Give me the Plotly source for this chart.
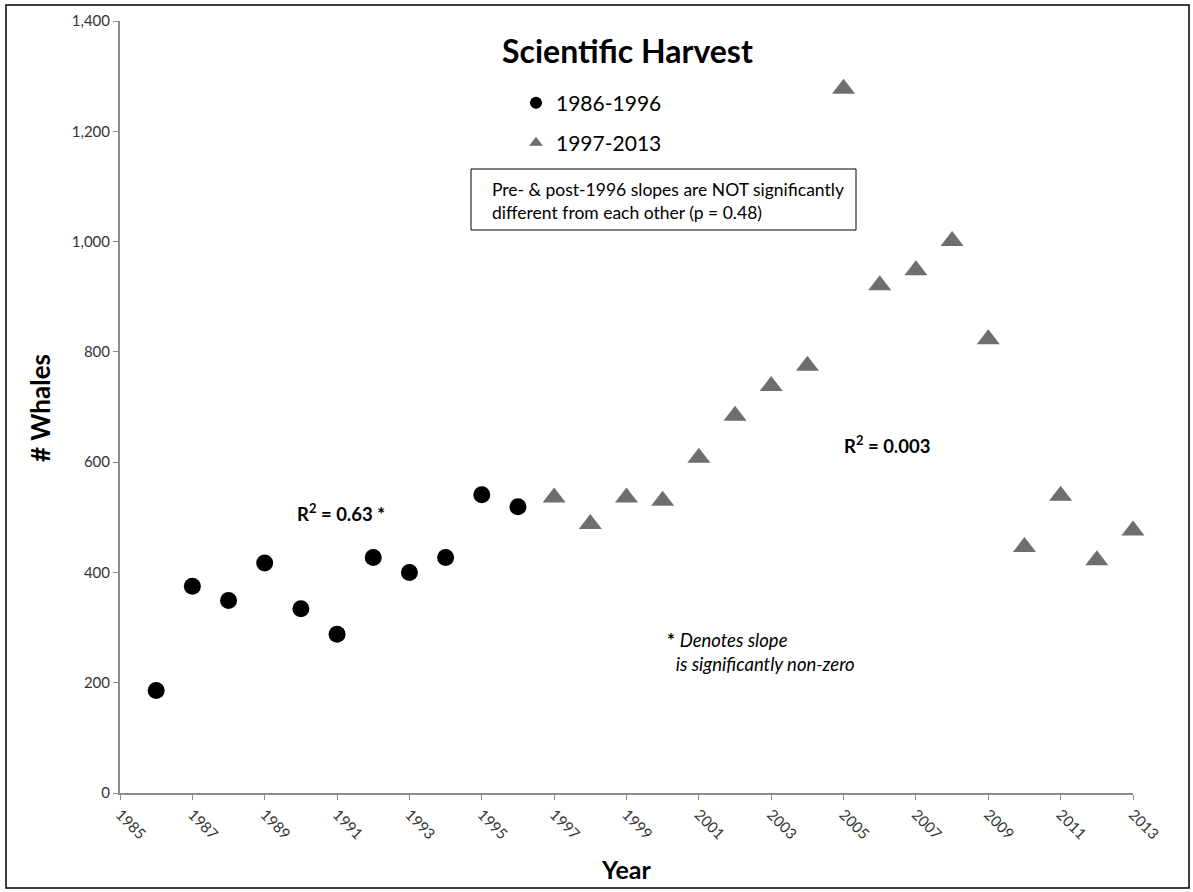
import plotly.graph_objects as go

# Scientific harvest counts
years_early = [1986, 1987, 1988, 1989, 1990, 1991, 1992, 1993, 1994, 1995, 1996]
whales_early = [186, 375, 349, 417, 334, 288, 427, 400, 427, 541, 519]

years_late = [1997, 1998, 1999, 2000, 2001, 2002, 2003, 2004, 2005,
              2006, 2007, 2008, 2009, 2010, 2011, 2012, 2013]
whales_late = [536, 488, 536, 530, 608, 684, 738, 775, 1277,
               921, 948, 1001, 823, 446, 539, 422, 476]

x_ticks = list(range(1985, 2014, 2))
y_ticks = [0, 200, 400, 600, 800, 1000, 1200, 1400]

FONT = "Lato, 'Open Sans', sans-serif"
W, H = 1193, 892
L, R, T, B = 120, 60, 21, 99
PW, PH = W - L - R, H - T - B


def px_x(x):
    return (x - L) / PW


def px_y(y):
    return (H - B - y) / PH


fig = go.Figure()

fig.add_trace(go.Scatter(
    x=years_early, y=whales_early, mode="markers", name="1986-1996",
    marker=dict(symbol="circle", size=17, color="black"),
    cliponaxis=False, legend="legend",
))
fig.add_trace(go.Scatter(
    x=years_late, y=whales_late, mode="markers", name="1997-2013",
    marker=dict(symbol="triangle-up", size=20, color="#6e6e6e"),
    cliponaxis=False, legend="legend2",
))

legend_style = dict(
    xanchor="left", yanchor="middle",
    font=dict(size=21, color="black"),
    bgcolor="rgba(0,0,0,0)", itemwidth=30, itemsizing="constant",
)

fig.update_layout(
    width=W, height=H,
    margin=dict(l=L, r=R, t=T, b=B),
    paper_bgcolor="white", plot_bgcolor="white",
    font=dict(family=FONT, color="#222"),
    showlegend=True,
    legend=dict(x=px_x(516), y=px_y(103), **legend_style),
    legend2=dict(x=px_x(516), y=px_y(143), **legend_style),
    xaxis=dict(
        range=[1985, 2013], tickvals=x_ticks, ticktext=[str(t) for t in x_ticks],
        tickangle=45, showgrid=False, zeroline=False,
        showline=True, linecolor="#8c8c8c", linewidth=2,
        ticks="outside", ticklen=5, tickcolor="#8c8c8c",
        tickfont=dict(size=15, color="#333"),
    ),
    yaxis=dict(
        range=[0, 1400], tickvals=y_ticks, tickformat=",",
        showgrid=False, zeroline=False,
        showline=True, linecolor="#8c8c8c", linewidth=2,
        ticks="outside", ticklen=5, tickcolor="#8c8c8c",
        tickfont=dict(size=15, color="#333"),
    ),
)

annotations = [
    dict(text="<b>Scientific Harvest</b>", x=px_x(627), y=px_y(50),
         font=dict(size=32, color="black")),
    dict(text="Pre- & post-1996 slopes are NOT significantly<br>different from each other (p = 0.48)",
         x=px_x(490), y=px_y(201), xanchor="left", align="left",
         font=dict(size=17.5, color="black")),
    dict(text="<b>R<sup>2</sup> = 0.63 *</b>", x=px_x(341), y=px_y(512),
         font=dict(size=18.5, color="black")),
    dict(text="<b>R<sup>2</sup> = 0.003</b>", x=px_x(887), y=px_y(445),
         font=dict(size=18.5, color="black")),
    dict(text="<b>*</b> <i>Denotes slope</i><br><i>  is significantly non-zero</i>",
         x=px_x(665), y=px_y(652), xanchor="left", align="left",
         font=dict(size=18.5, color="black")),
    dict(text="<b># Whales</b>", x=px_x(40), y=px_y(408), textangle=-90,
         font=dict(size=26, color="black")),
    dict(text="<b>Year</b>", x=px_x(626), y=px_y(869),
         font=dict(size=25, color="black")),
]
for a in annotations:
    a.setdefault("xanchor", "center")
    a.update(xref="paper", yref="paper", showarrow=False, yanchor="middle")
fig.update_layout(annotations=annotations)

# box around the slope-comparison note
fig.add_shape(type="rect", xref="paper", yref="paper",
              x0=px_x(471), x1=px_x(856), y0=px_y(230), y1=px_y(169),
              line=dict(color="black", width=1), fillcolor="white", layer="below")

# outer frame around the whole chart
fig.add_shape(type="rect", xref="paper", yref="paper",
              x0=px_x(6), x1=px_x(1189), y0=px_y(888), y1=px_y(5),
              line=dict(color="black", width=1.5), layer="below")

fig.write_html("out.html", config={"displayModeBar": False},
               post_script="document.body.style.margin='0px';")
